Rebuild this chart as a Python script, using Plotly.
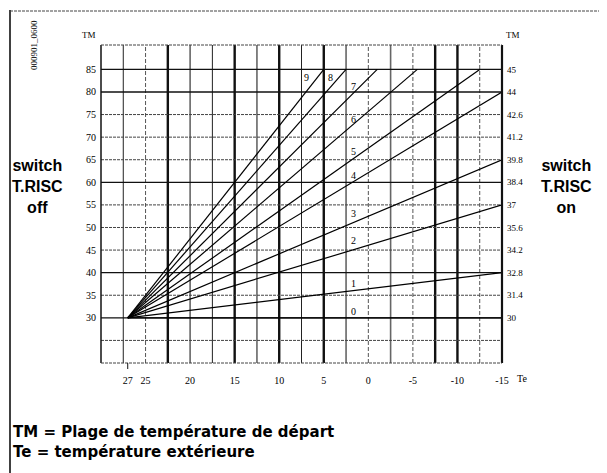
import plotly.graph_objects as go

# ---------------- data ----------------
curve_ids = ["0", "1", "2", "3", "4", "5", "6", "7", "8", "9"]
start_te = 27
start_tm = 30
end_te = [-15, -15, -15, -15, -15, -12.5, -5.5, -1, 2.5, 5]
end_tm = [30, 40, 55, 65, 80, 85, 85, 85, 85, 85]
label_te = [1.7, 1.7, 1.7, 1.7, 1.7, 1.7, 1.7, 1.7, 4.2, 6.9]
label_tm = [31.5, 37.7, 47.2, 53.2, 61.4, 66.9, 73.8, 81.3, 83.1, 83.3]

x_tick_vals = [27, 25, 20, 15, 10, 5, 0, -5, -10, -15]
x_tick_text = ["27", "25", "20", "15", "10", "5", "0", "-5", "-10", "-15"]
y_tick_vals = [85, 80, 75, 70, 65, 60, 55, 50, 45, 40, 35, 30]
y_tick_text = ["85", "80", "75", "70", "65", "60", "55", "50", "45", "40", "35", "30"]
y2_tick_text = ["45", "44", "42.6", "41.2", "39.8", "38.4", "37", "35.6", "34.2", "32.8", "31.4", "30"]

v_grid = [27.5, 25, 22.5, 20, 17.5, 15, 12.5, 10, 7.5, 5, 2.5, 0, -2.5, -5, -7.5, -10, -12.5]
h_grid = [85, 80, 75, 70, 65, 60, 55, 50, 45, 40, 35, 30, 25]

X_RANGE = [30, -15]
Y_RANGE = [20, 90.4]

# ---------------- layout geometry ----------------
# the page body has an 8px margin: figure pixel = screen pixel - 8
OFF = 8
W, H = 607 - OFF, 473 - OFF
L, R, T, B = 101 - OFF, 502 - OFF, 45 - OFF, 363 - OFF


def px(xs):
    return (xs - OFF - L) / (R - L)


def py(ys):
    return (B - (ys - OFF)) / (B - T)


fig = go.Figure()

# curves
for cid, te, tm in zip(curve_ids, end_te, end_tm):
    fig.add_trace(go.Scatter(x=[start_te, te], y=[start_tm, tm], mode="lines",
                             line=dict(color="black", width=1.2),
                             hoverinfo="skip", showlegend=False, name=cid))

# dummy trace for secondary axis
fig.add_trace(go.Scatter(x=[start_te], y=[start_tm], yaxis="y2", mode="markers",
                         marker=dict(opacity=0), showlegend=False, hoverinfo="skip"))

shapes = []
heavy_v = {22.5, 15, 10, 5, -7.5, -10}
medium_v = {20, 12.5, 2.5, -2.5}
dashed_v = {25, 0, -5, -12.5}
for v in v_grid:
    if v in heavy_v:
        ln = dict(color="#111", width=2.4)
    elif v in medium_v:
        ln = dict(color="#666", width=1.6)
    elif v in dashed_v:
        ln = dict(color="#555", width=1, dash="4px,2px")
    else:
        ln = dict(color="#222", width=1)
    shapes.append(dict(type="line", xref="x", yref="y domain", x0=v, x1=v, y0=0, y1=1,
                       line=ln, layer="below"))

solid_h = {85, 80, 60, 40, 30}
for v in h_grid:
    if v in solid_h:
        ln = dict(color="#111", width=1.3)
    else:
        ln = dict(color="#444", width=1, dash="3px,1px")
    shapes.append(dict(type="line", xref="x domain", yref="y", x0=0, x1=1, y0=v, y1=v,
                       line=ln, layer="below"))

# plot frame
shapes += [
    dict(type="line", xref="paper", yref="paper", x0=0, x1=0, y0=0, y1=1,
         line=dict(color="#111", width=1.5)),
    dict(type="line", xref="paper", yref="paper", x0=1, x1=1, y0=0, y1=1,
         line=dict(color="#111", width=2.2)),
    dict(type="line", xref="paper", yref="paper", x0=0, x1=1, y0=1, y1=1,
         line=dict(color="#444", width=1, dash="3px,1px")),
    dict(type="line", xref="paper", yref="paper", x0=0, x1=1, y0=0, y1=0,
         line=dict(color="#444", width=1, dash="3px,1px")),
    # small tick below 27
    dict(type="line", xref="x", yref="paper", x0=27, x1=27, y0=0, y1=py(369),
         line=dict(color="#111", width=1)),
]

# outer frame of the figure
shapes += [
    dict(type="line", xref="paper", yref="paper", x0=px(10), x1=px(10), y0=py(10), y1=py(480),
         line=dict(color="#111", width=1.6)),
    dict(type="line", xref="paper", yref="paper", x0=px(10), x1=px(601), y0=py(11), y1=py(11),
         line=dict(color="#444", width=1, dash="3px,1px")),
    dict(type="line", xref="paper", yref="paper", x0=px(601), x1=px(601), y0=py(10), y1=py(480),
         line=dict(color="#111", width=1.6)),
]

serif = "Liberation Serif"
sans = "Liberation Sans"
ann = []
for cid, te, tm in zip(curve_ids, label_te, label_tm):
    ann.append(dict(x=te, y=tm, xref="x", yref="y", text=cid, showarrow=False,
                    xanchor="center", yanchor="middle",
                    font=dict(family=serif, size=10, color="black")))


def pann(xs, ys, text, font, xanchor="center", **kw):
    return dict(x=px(xs), y=py(ys), xref="paper", yref="paper", text=text,
                showarrow=False, xanchor=xanchor, yanchor="middle", font=font, **kw)


ann += [
    pann(89, 35, "TM", dict(family=serif, size=9, color="black")),
    pann(513, 35, "TM", dict(family=serif, size=9, color="black")),
    pann(522, 378, "Te", dict(family=serif, size=10, color="black")),
    pann(34, 45, "000901_0600", dict(family=serif, size=9, color="black"), textangle=-90),
    pann(37, 186, "<b>switch<br>T.RISC<br>off</b>", dict(family=sans, size=16, color="black")),
    pann(566, 186, "<b>switch<br>T.RISC<br>on</b>", dict(family=sans, size=16, color="black")),
    pann(11, 432, "<b>TM = Plage de température de départ</b>",
         dict(family="DejaVu Sans", size=15, color="black"), xanchor="left"),
    pann(11, 452, "<b>Te = température extérieure</b>",
         dict(family="DejaVu Sans", size=15, color="black"), xanchor="left"),
]

fig.update_layout(
    width=W, height=H, autosize=False,
    margin=dict(l=L, r=W - R, t=T, b=H - B, pad=0),
    paper_bgcolor="white", plot_bgcolor="white",
    shapes=shapes, annotations=ann, showlegend=False,
    xaxis=dict(range=X_RANGE, showgrid=False, zeroline=False, showline=False,
               tickvals=x_tick_vals, ticktext=x_tick_text, ticks="",
               ticklabelstandoff=10,
               tickfont=dict(family=serif, size=10, color="black")),
    yaxis=dict(range=Y_RANGE, showgrid=False, zeroline=False, showline=False,
               tickvals=y_tick_vals, ticktext=y_tick_text, ticks="",
               ticklabelstandoff=4,
               tickfont=dict(family=serif, size=10, color="black")),
    yaxis2=dict(range=Y_RANGE, overlaying="y", side="right", showgrid=False,
                zeroline=False, showline=False, tickvals=y_tick_vals,
                ticktext=y2_tick_text, ticks="", ticklabelstandoff=4,
                tickfont=dict(family=serif, size=9, color="black")),
)

fig.write_html("out.html")
